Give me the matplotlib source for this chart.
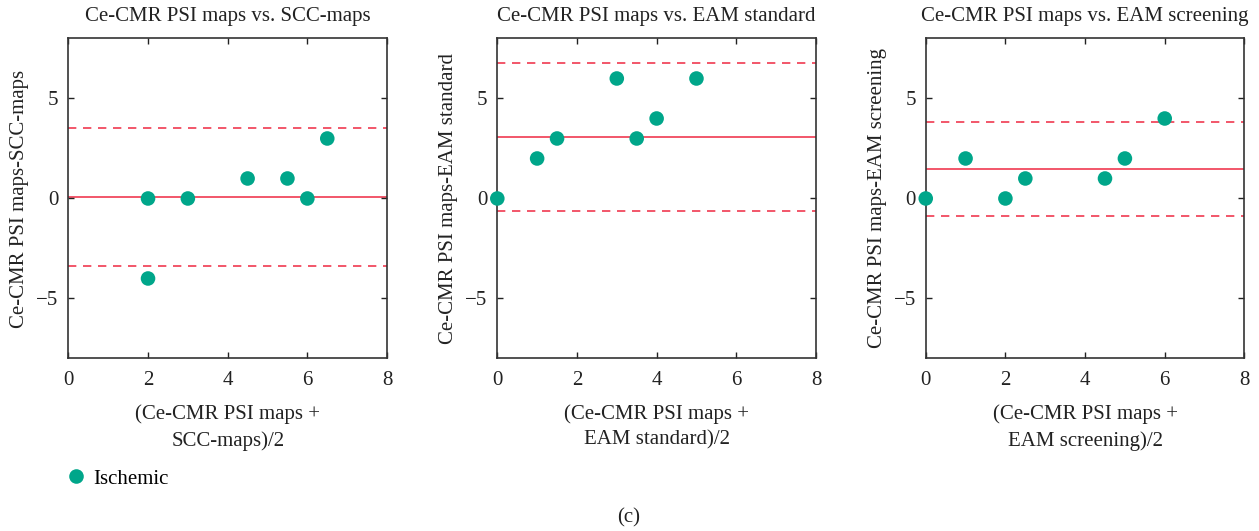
import matplotlib
matplotlib.use("Agg")
import matplotlib.pyplot as plt
from matplotlib.lines import Line2D

plt.rcParams['font.family'] = ['Liberation Serif', 'DejaVu Serif']

titles = ["Ce-CMR PSI maps vs. SCC-maps",
          "Ce-CMR PSI maps vs. EAM standard",
          "Ce-CMR PSI maps vs. EAM screening"]
ylabels = ["Ce-CMR PSI maps-SCC-maps",
           "Ce-CMR PSI maps-EAM standard",
           "Ce-CMR PSI maps-EAM screening"]
xlabels = ["(Ce-CMR PSI maps +\nSCC-maps)/2",
           "(Ce-CMR PSI maps +\nEAM standard)/2",
           "(Ce-CMR PSI maps +\nEAM screening)/2"]

# Bland-Altman data: mean of methods (x) and difference (y)
scc_x = [2, 3, 4.5, 5.5, 6, 6.5, 2]
scc_y = [0, 0, 1, 1, 0, 3, -4]
std_x = [0, 1, 1.5, 3, 3.5, 4, 5]
std_y = [0, 2, 3, 6, 3, 4, 6]
scr_x = [0, 1, 2, 2.5, 4.5, 5, 6]
scr_y = [0, 2, 0, 1, 1, 2, 4]

# bias and limits of agreement (lower, mean, upper)
scc_lines = [-3.39, 0.07, 3.53]
std_lines = [-0.63, 3.07, 6.78]
scr_lines = [-0.89, 1.47, 3.83]

xs = [scc_x, std_x, scr_x]
ys = [scc_y, std_y, scr_y]
lims = [scc_lines, std_lines, scr_lines]

green = "#00A68A"
red = "#F03A50"
ink = '#222222'
fs = 15

fig = plt.figure(figsize=(12.59, 5.31), dpi=100)
lefts = [0.0543, 0.3950, 0.7353]
for i in range(3):
    ax = fig.add_axes([lefts[i], 0.3249, 0.2531, 0.6026])
    lo, mid, hi = lims[i]
    ax.axhline(mid, color=red, lw=1.2, zorder=1)
    ax.axhline(hi, color=red, lw=1.2, ls=(0, (5, 4)), zorder=1)
    ax.axhline(lo, color=red, lw=1.2, ls=(0, (5, 4)), zorder=1)
    ax.scatter(xs[i], ys[i], s=110, color=green, edgecolors='none', zorder=3, clip_on=False)
    ax.set_xlim(0, 8)
    ax.set_ylim(-8, 8)
    ax.set_xticks([0, 2, 4, 6, 8])
    ax.set_yticks([-5, 0, 5])
    ax.set_yticklabels(["\u22125", "0", "5"])
    ax.tick_params(direction='in', top=True, right=True, length=4, width=1,
                   labelsize=fs, colors=ink, pad=7)
    ax.tick_params(axis='x', pad=9)
    for sp in ax.spines.values():
        sp.set_linewidth(1.2)
        sp.set_color('#333333')
    ax.set_title(titles[i], fontsize=fs, pad=12.5, color=ink)
    ax.set_ylabel(ylabels[i], fontsize=fs, color=ink, labelpad=5)
    ax.set_xlabel(xlabels[i], fontsize=fs, color=ink, labelpad=10,
                  linespacing=1.5)

handle = Line2D([], [], marker='o', ls='none', color=green, markersize=10.5,
                markeredgewidth=0)
fig.legend([handle], ["Ischemic"], loc='center left', bbox_to_anchor=(0.044, 0.098),
           frameon=False, fontsize=fs, handletextpad=0.3, borderpad=0,
           handlelength=1.0)
fig.text(0.4996, 0.025, "(c)", ha='center', va='center', fontsize=fs, color=ink)

fig.savefig("out.png", dpi=100)
